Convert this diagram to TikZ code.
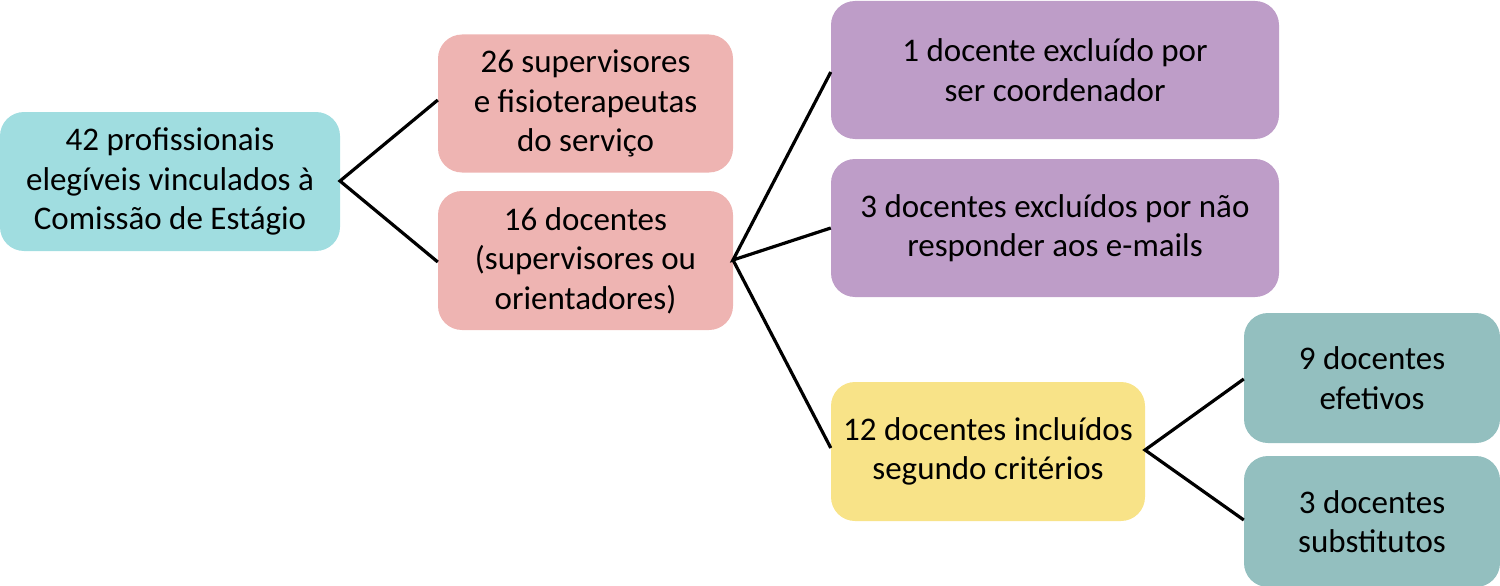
\documentclass[tikz,border=0pt]{standalone}
\usepackage{fontspec}
\setmainfont{Carlito}
\definecolor{cA}{HTML}{A0DDE0}
\definecolor{cB}{HTML}{EEB4B2}
\definecolor{cC}{HTML}{BE9DC8}
\definecolor{cY}{HTML}{F8E388}
\definecolor{cD}{HTML}{93BFBF}
\begin{document}
\begin{tikzpicture}[x=1pt,y=-1pt,
  box/.style={rounded corners=24pt, inner sep=0pt, align=center, text=black,
    font=\fontsize{33}{39.5}\selectfont},
  link/.style={line width=3.2pt, black}]
\useasboundingbox (0,0) rectangle (1500,586);
\node[box, fill=cA, minimum width=340pt, minimum height=139pt] (a) at (170,181.5) {42 profissionais\\elegíveis vinculados à\\Comissão de Estágio};
\node[box, fill=cB, minimum width=295pt, minimum height=138pt] (b1) at (585.5,103.5) {26 supervisores\\e fisioterapeutas\\do serviço};
\node[box, fill=cB, minimum width=295pt, minimum height=139pt] (b2) at (585.5,260.5) {16 docentes\\(supervisores ou\\orientadores)};
\node[box, fill=cC, minimum width=448pt, minimum height=138pt] (c1) at (1055,70) {1 docente excluído por\\ser coordenador};
\node[box, fill=cC, minimum width=448pt, minimum height=138pt] (c2) at (1055,228) {3 docentes excluídos por não\\responder aos e-mails};
\node[box, fill=cY, minimum width=314pt, minimum height=139pt] (c3) at (988,451.5) {12 docentes incluídos\\segundo critérios};
\node[box, fill=cD, minimum width=256pt, minimum height=130pt] (d1) at (1372,378) {9 docentes\\efetivos};
\node[box, fill=cD, minimum width=256pt, minimum height=131pt] (d2) at (1372,521.5) {3 docentes\\substitutos};
\coordinate (ar) at (340,181);
\coordinate (br) at (733,260);
\coordinate (cr) at (1145,450);
\draw[link] (b1.west |- 0,100) -- (ar) -- (b2.west |- 0,262);
\draw[link] (c1.west |- 0,72) -- (br) -- (c2.west |- 0,228);
\draw[link] (br) -- (c3.west |- 0,448);
\draw[link] (d1.west |- 0,379) -- (cr) -- (d2.west |- 0,520);
\end{tikzpicture}
\end{document}
